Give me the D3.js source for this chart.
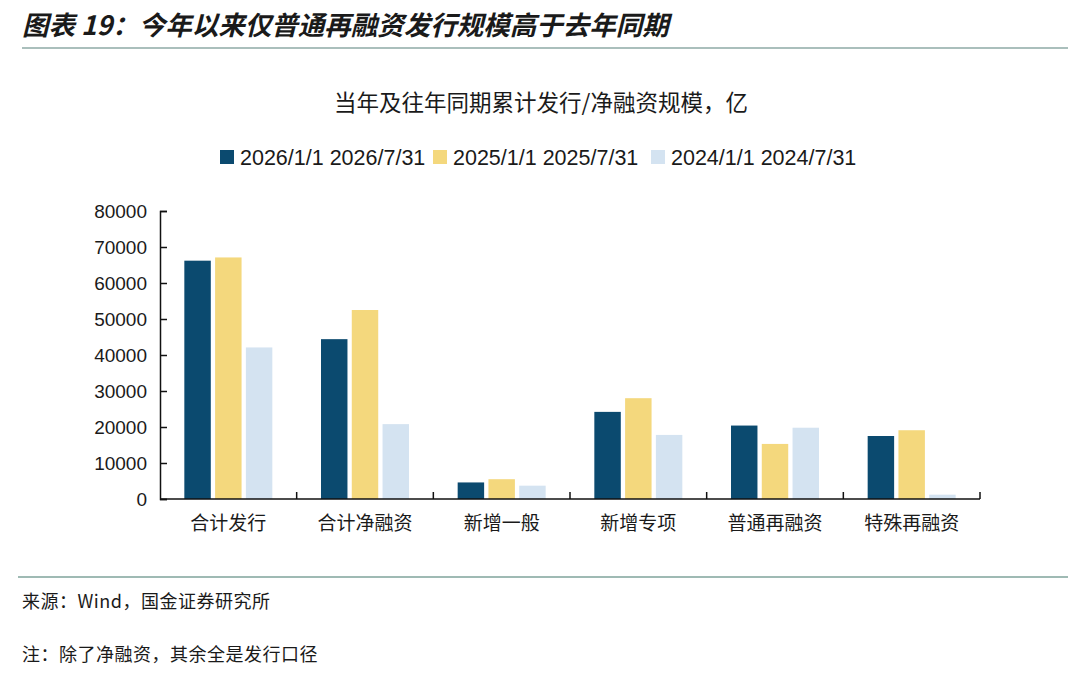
<!DOCTYPE html>
<html>
<head>
<meta charset="utf-8">
<script src="https://cdn.jsdelivr.net/npm/d3@7"></script>
<style>
  body { margin: 0; background: #fff; }
  svg text { font-family: "Noto Sans CJK SC", "Liberation Sans", sans-serif; fill: #1a1a1a; }
</style>
</head>
<body>
<div id="chart"></div>
<script>
// categories and series (亿)
let categories = ["合计发行", "合计净融资", "新增一般", "新增专项", "普通再融资", "特殊再融资"]
let seriesNames = ["2026/1/1 2026/7/31", "2025/1/1 2025/7/31", "2024/1/1 2024/7/31"]
let values2026 = [66200, 44400, 4600, 24200, 20400, 17500]
let values2025 = [67100, 52500, 5500, 28000, 15300, 19100]
let values2024 = [42100, 20800, 3700, 17800, 19800, 1200]
let yTicks = [0, 10000, 20000, 30000, 40000, 50000, 60000, 70000, 80000]
let colors = ["#0b4a6f", "#f4d87d", "#d4e3f1"]

let allSeries = [values2026, values2025, values2024]

let width = 1080, height = 676
let plotLeft = 160, plotRight = 980, plotTop = 211, plotBottom = 499

const svg = d3.select("#chart").append("svg").attr("width", width).attr("height", height)

// title + separators
svg.append("text").attr("x", 22).attr("y", 35)
  .style("font-size", "26.5px").style("font-style", "italic").style("font-weight", "bold")
  .text("图表 19：今年以来仅普通再融资发行规模高于去年同期")
svg.append("line").attr("x1", 22).attr("x2", 1068).attr("y1", 48).attr("y2", 48)
  .attr("stroke", "#8eaaa6").attr("stroke-width", 1.5)
svg.append("line").attr("x1", 18).attr("x2", 1068).attr("y1", 577).attr("y2", 577)
  .attr("stroke", "#7fa39b").attr("stroke-width", 1.5)

// chart subtitle
svg.append("text").attr("x", 541).attr("y", 111).attr("text-anchor", "middle")
  .style("font-size", "22.5px").text("当年及往年同期累计发行/净融资规模，亿")

// legend
let legendX = [220, 433, 651]
const legend = svg.append("g")
seriesNames.forEach((name, i) => {
  legend.append("rect").attr("x", legendX[i]).attr("y", 150).attr("width", 14).attr("height", 14).attr("fill", colors[i])
  legend.append("text").attr("x", legendX[i] + 20).attr("y", 165)
    .style("font-family", "'Liberation Sans', Arial, sans-serif").style("font-size", "21.5px")
    .text(name)
})

// scales
const x0 = d3.scaleBand().domain(categories).range([plotLeft, plotRight]).padding(0)
const groupW = 88
const x1 = d3.scaleBand().domain(d3.range(seriesNames.length)).range([0, groupW]).paddingInner(0.14)
const y = d3.scaleLinear().domain([0, 80000]).range([plotBottom, plotTop])

// bars
const groups = svg.append("g").selectAll("g").data(categories).enter().append("g")
  .attr("transform", d => "translate(" + (x0(d) + (x0.bandwidth() - groupW) / 2) + ",0)")
groups.selectAll("rect")
  .data((d, ci) => allSeries.map((s, si) => ({ si: si, v: s[ci] })))
  .enter().append("rect")
  .attr("x", d => x1(d.si))
  .attr("width", x1.bandwidth())
  .attr("y", d => y(d.v))
  .attr("height", d => plotBottom - y(d.v))
  .attr("fill", d => colors[d.si])

// y axis, ticks pointing inward
const yAxis = d3.axisRight(y).tickValues(yTicks).tickSize(7).tickFormat(d3.format("d"))
const gy = svg.append("g").attr("transform", "translate(" + plotLeft + ",0)").call(yAxis)
gy.select(".domain").attr("stroke", "#111").attr("stroke-width", 1.5)
gy.selectAll(".tick line").attr("stroke", "#111").attr("stroke-width", 1.5)
gy.selectAll(".tick text").attr("x", -13).attr("text-anchor", "end")
  .style("font-family", "'Liberation Sans', Arial, sans-serif").style("font-size", "19px").attr("fill", "#1a1a1a")

// x axis with ticks at band edges, pointing up
const gx = svg.append("g").attr("transform", "translate(0," + plotBottom + ")")
gx.append("line").attr("x1", plotLeft).attr("x2", plotRight).attr("stroke", "#111").attr("stroke-width", 1.5)
let edges = categories.map(c => x0(c)).concat([plotRight])
gx.selectAll(".edge").data(edges.slice(1)).enter().append("line")
  .attr("x1", d => d).attr("x2", d => d).attr("y1", 0).attr("y2", -7)
  .attr("stroke", "#111").attr("stroke-width", 1.5)
gx.selectAll(".lab").data(categories).enter().append("text")
  .attr("x", d => x0(d) + x0.bandwidth() / 2).attr("y", 530 - plotBottom).attr("text-anchor", "middle")
  .style("font-size", "19px").text(d => d)

// footer
svg.append("text").attr("x", 22).attr("y", 608).style("font-size", "18px").style("letter-spacing", "0.5px")
  .text("来源：Wind，国金证券研究所")
svg.append("text").attr("x", 22).attr("y", 661).style("font-size", "18px").style("letter-spacing", "0.5px")
  .text("注：除了净融资，其余全是发行口径")
</script>
</body>
</html>
